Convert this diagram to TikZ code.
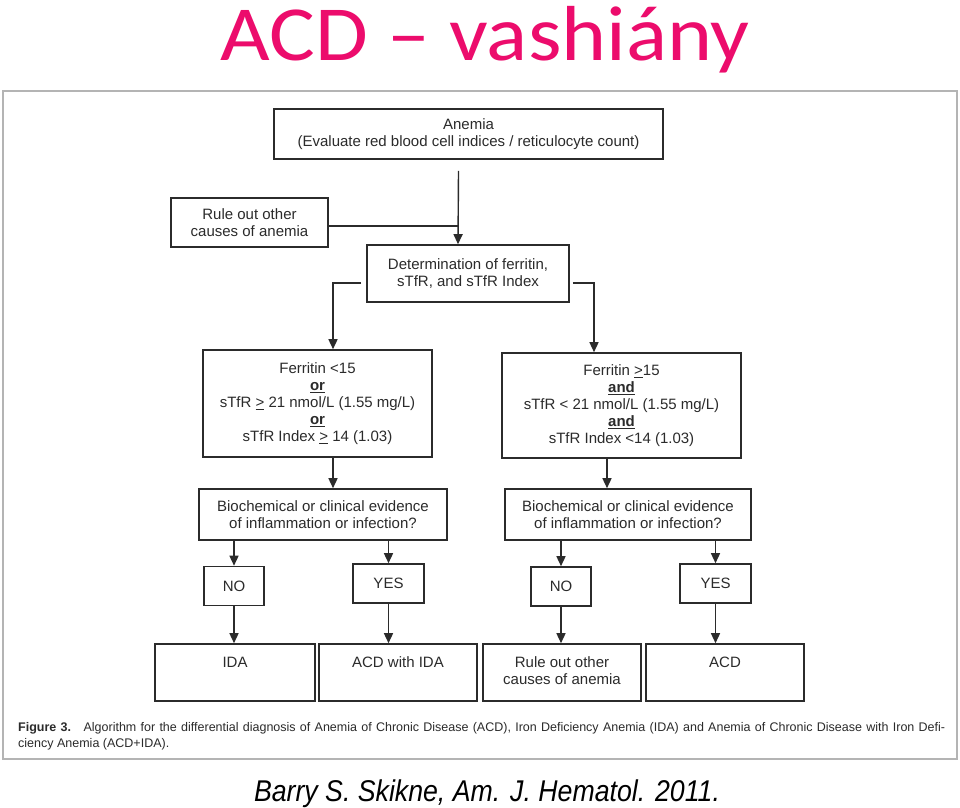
\documentclass[tikz,border=0pt]{standalone}
\usepackage{fontspec}
\setmainfont{Liberation Sans}
\newfontfamily\titlefont[FakeStretch=1.1]{Carlito}
\newfontfamily\capfont{Liberation Sans}
\newfontfamily\citefont[FakeStretch=0.89]{Liberation Sans}
\usetikzlibrary{arrows.meta}
\definecolor{titlepink}{HTML}{EC0C6C}
\definecolor{scanink}{HTML}{2B2B2B}
\definecolor{scanframe}{HTML}{B4B4B4}
\tikzset{
        flow_box/.style={draw=scanink, line width=1.6pt, inner sep=0pt, align=center,
                         text=scanink, font=\fontsize{15}{17}\selectfont},
        ans_box/.style={flow_box, minimum height=39pt},
        out_box/.style={flow_box, minimum width=158pt, minimum height=57pt},
        out_text/.style={anchor=north, align=center, yshift=-10pt, text=scanink,
                         font=\fontsize{15}{17}\selectfont},
        flow_line/.style={draw=scanink, line width=1.4pt},
        flow_arrow/.style={flow_line, -{Triangle[length=10pt, width=9pt]}}
    }

\begin{document}
\begin{tikzpicture}[x=1pt, y=-1pt]
    \useasboundingbox (0,0) rectangle (960,807);
    \fill[white] (0,0) rectangle (960,807);
    \node[anchor=base, inner sep=0pt, text height=56pt, text=titlepink,
          font=\titlefont\fontsize{78}{90}\selectfont] (title) at (485,60) {ACD – vashiány};
    \draw[scanframe, line width=1.5pt] (3,91) rectangle (957,759);

    \node[flow_box, minimum width=389pt, minimum height=50pt] (anemia) at (468.5,134)
        {Anemia\\(Evaluate red blood cell indices / reticulocyte count)};
    \node[flow_box, minimum width=157pt, minimum height=49pt] (rule_top) at (249.5,222.5)
        {Rule out other\\causes of anemia};
    \node[flow_box, minimum width=202pt, minimum height=57pt] (det) at (468,273.5)
        {Determination of ferritin,\\sTfR, and sTfR Index};

    \node[flow_box, minimum width=229pt, minimum height=107pt] (ferr_lo) at (317.5,403.5)
        {Ferritin <15\\ \textbf{\underline{or}}\\ sTfR \underline{>} 21 nmol/L (1.55 mg/L)\\
         \textbf{\underline{or}}\\ sTfR Index \underline{>} 14 (1.03)};
    \node[flow_box, minimum width=239pt, minimum height=105pt] (ferr_hi) at (621.5,405.5)
        {Ferritin \underline{>}15\\ \textbf{\underline{and}}\\ sTfR < 21 nmol/L (1.55 mg/L)\\
         \textbf{\underline{and}}\\ sTfR Index <14 (1.03)};

    \node[flow_box, minimum width=248pt, minimum height=51pt] (bio_lo) at (323,514.5)
        {Biochemical or clinical evidence\\of inflammation or infection?};
    \node[flow_box, minimum width=246pt, minimum height=51pt] (bio_hi) at (628,514.5)
        {Biochemical or clinical evidence\\of inflammation or infection?};

    \node[ans_box, minimum width=60pt] (no_lo) at (234,586) {NO};
    \node[ans_box, minimum width=71pt] (yes_lo) at (388.5,583.5) {YES};
    \node[ans_box, minimum width=60pt] (no_hi) at (561,586.5) {NO};
    \node[ans_box, minimum width=71pt] (yes_hi) at (715.5,583.5) {YES};

    \node[out_box, minimum width=160pt, label={[out_text]north:IDA}] (out_ida) at (235,672.5) {};
    \node[out_box, label={[out_text]north:ACD with IDA}] (out_mix) at (398,672.5) {};
    \node[out_box, label={[out_text]north:Rule out other\\causes of anemia}] (out_rule) at (562,672.5) {};
    \node[out_box, label={[out_text]north:ACD}] (out_acd) at (725,672.5) {};

    \coordinate (merge) at ([xshift=-10pt]det.north);
    \draw[flow_arrow] ([xshift=-10pt, yshift=-11pt]anemia.south) -- (merge);
    \draw[flow_line] ([yshift=-3.5pt]rule_top.east) -- ([yshift=-3.5pt]rule_top.east -| merge);
    \draw[flow_arrow] ([xshift=-5pt, yshift=-9.5pt]det.west) -| ([xshift=15.5pt]ferr_lo.north);
    \draw[flow_arrow] ([xshift=3pt, yshift=-9.5pt]det.east) -| ([xshift=-27.5pt]ferr_hi.north);
    \draw[flow_arrow] ([xshift=15.5pt]ferr_lo.south) -- ([xshift=15.5pt]ferr_lo.south |- bio_lo.north);
    \draw[flow_arrow] ([xshift=-14.5pt]ferr_hi.south) -- ([xshift=-14.5pt]ferr_hi.south |- bio_hi.north);

    \draw[flow_arrow] (bio_lo.south -| no_lo.north) -- (no_lo.north);
    \draw[flow_arrow] (bio_lo.south -| yes_lo.north) -- (yes_lo.north);
    \draw[flow_arrow] (bio_hi.south -| no_hi.north) -- (no_hi.north);
    \draw[flow_arrow] (bio_hi.south -| yes_hi.north) -- (yes_hi.north);

    \draw[flow_arrow] (no_lo.south) -- (no_lo.south |- out_ida.north);
    \draw[flow_arrow] (yes_lo.south) -- (yes_lo.south |- out_mix.north);
    \draw[flow_arrow] (no_hi.south) -- (no_hi.south |- out_rule.north);
    \draw[flow_arrow] (yes_hi.south) -- (yes_hi.south |- out_acd.north);

    \node[anchor=north west, align=left, inner sep=0pt, text=scanink,
          font=\capfont\fontsize{12.5}{16}\selectfont] (caption) at (18,722)
        {\makebox[927pt][s]{\textbf{Figure 3.}\hspace{1em}Algorithm for the differential diagnosis of Anemia of Chronic Disease (ACD), Iron Deficiency Anemia (IDA) and Anemia of Chronic Disease with Iron Defi-}\\
         ciency Anemia (ACD+IDA).};
    \node[anchor=base, font=\citefont\itshape\fontsize{30}{36}\selectfont] (cite) at (487,801)
        {Barry S. Skikne, Am. J. Hematol. 2011.};
\end{tikzpicture}
\end{document}
